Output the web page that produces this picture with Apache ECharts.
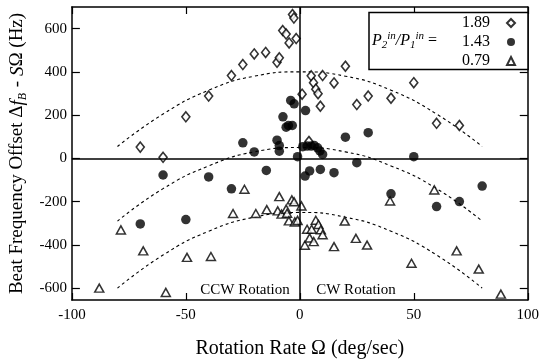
<!DOCTYPE html>
<html><head><meta charset="utf-8">
<script src="https://cdn.jsdelivr.net/npm/echarts@6/dist/echarts.min.js"></script>
<style>html,body{margin:0;padding:0;background:#fff}#c{width:542px;height:364px}</style>
</head><body><div id="c"></div>
<script>
const seriesNames = ['1.89', '1.43', '0.79'];
const xTicks = [-100, -50, 0, 50, 100];
const yTicks = [-600, -400, -200, 0, 200, 400, 600];

// P2/P1 = 1.89 (open diamonds)
const ratio189 = [[-70,52],[-60,5],[-50,192],[-40,288],[-30,383],[-25,434],[-20,483],[-15,490],[-10,444],[-9,465],
  [-7.5,591],[-6,575],[-4.7,534],[-1.6,554],[-3.2,665],[-2.6,649],[1,297],[5,382],[6,350],[7,320],[8,299],[9,241],
  [10,383],[15,349],[20,426],[25,249],[30,288],[40,278],[50,350],[60,162],[70,152],[4,78]];
// P2/P1 = 1.43 (filled circles)
const ratio143 = [[-70,-303],[-60,-77],[-50,-283],[-40,-86],[-30,-141],[-25,72],[-20,30],[-14.7,-56],[-10,84],[-9,59],
  [-9,33],[-7.4,192],[-6,144],[-5,152],[-3.3,152],[-4,268],[-2.5,252],[-1,8],[1.3,54],[2.5,221],[3.2,57],[5,57],
  [6.3,60],[7.8,49],[8.8,34],[10,18],[2.3,-82],[4.3,-58],[9,-51],[15,-66],[20,98],[25,-20],[30,119],[40,-164],
  [50,8],[60,-223],[70,-200],[80,-128]];
// P2/P1 = 0.79 (open triangles)
const ratio079 = [[-88,-600],[-78.5,-331],[-68.7,-428],[-58.8,-620],[-49.5,-458],[-39,-454],[-29.3,-255],[-24.3,-143],
  [-19.3,-255],[-14.5,-237],[-9.7,-243],[-9,-177],[-8,-258],[-6,-235],[-5.6,-254],[-3.5,-192],[-2.5,-201],[-4.8,-289],
  [-2.2,-294],[-1,-287],[0.7,-220],[2.2,-402],[3.2,-328],[4.3,-368],[5.2,-328],[6.1,-385],[7,-286],[8.2,-306],
  [9.2,-330],[10,-353],[15,-408],[19.7,-290],[24.6,-370],[29.5,-401],[39.6,-197],[49,-485],[59,-146],[68.8,-428],
  [78.5,-512],[88.2,-628]];

// dotted fit curves
const fit189 = [[-80,55],[-60,205],[-40,315],[-20,380],[0,400],[20,380],[40,315],[60,205],[80,55]];
const fit143 = [[-80,-290],[-60,-140],[-40,-35],[-20,30],[0,50],[20,30],[40,-35],[60,-140],[80,-290]];
const fit079 = [[-80,-600],[-60,-447],[-40,-337],[-20,-272],[0,-250],[20,-272],[40,-337],[60,-447],[80,-600]];

const FONT = 'Liberation Serif';
const chart = echarts.init(document.getElementById('c'), null, {renderer: 'canvas'});

const axisLineStyle = {color: '#000', width: 1.5};
const fitStyle = {color: '#000', width: 1.1, type: [3, 3]};
const fitSeries = (data) => ({
  type: 'line', data, smooth: true, showSymbol: false, symbol: 'none',
  lineStyle: fitStyle, silent: true, z: 1, legendHoverLink: false
});

chart.setOption({
  animation: false,
  backgroundColor: '#fff',
  grid: {left: 67, right: 9, top: 7, bottom: 63, show: false},
  xAxis: [{
    type: 'value', min: xTicks[0], max: xTicks[xTicks.length - 1], interval: 50, position: 'bottom',
    axisLine: {show: true, onZero: false, lineStyle: axisLineStyle},
    axisTick: {show: true, inside: true, length: 7, lineStyle: {color: '#000', width: 1.2}},
    axisLabel: {color: '#000', fontFamily: FONT, fontSize: 15, margin: 8},
    splitLine: {show: false},
    name: 'Rotation Rate Ω (deg/sec)', nameLocation: 'middle', nameGap: 39,
    nameTextStyle: {color: '#000', fontFamily: FONT, fontSize: 20}
  }, {
    type: 'value', min: xTicks[0], max: xTicks[xTicks.length - 1], interval: 50, position: 'top',
    axisLine: {show: true, onZero: false, lineStyle: axisLineStyle},
    axisTick: {show: true, inside: true, length: 7, lineStyle: {color: '#000', width: 1.2}},
    axisLabel: {show: false}, splitLine: {show: false}
  }],
  yAxis: [{
    type: 'value', min: -655, max: 700, position: 'left',
    axisLine: {show: true, onZero: false, lineStyle: axisLineStyle},
    axisTick: {show: true, inside: true, length: 8, customValues: yTicks, lineStyle: {color: '#000', width: 1.2}},
    axisLabel: {color: '#000', fontFamily: FONT, fontSize: 15, margin: 5, customValues: yTicks},
    splitLine: {show: false},
    name: '{n|Beat Frequency Offset Δ}{i|f}{s|B}{n| - }{i|S}{n|Ω (Hz)}',
    nameLocation: 'middle', nameGap: 36, nameRotate: 90,
    nameTextStyle: {
      color: '#000', fontFamily: FONT, fontSize: 19,
      rich: {
        n: {fontFamily: FONT, fontSize: 19, color: '#000', lineHeight: 22},
        i: {fontFamily: FONT, fontSize: 19, fontStyle: 'italic', color: '#000', lineHeight: 22},
        s: {fontFamily: FONT, fontSize: 12, fontStyle: 'italic', color: '#000', lineHeight: 22, verticalAlign: 'bottom', padding: [8, 1, 0, 0]}
      }
    }
  }, {
    type: 'value', min: -655, max: 700, position: 'right',
    axisLine: {show: true, onZero: false, lineStyle: axisLineStyle},
    axisTick: {show: true, inside: true, length: 8, customValues: yTicks, lineStyle: {color: '#000', width: 1.2}},
    axisLabel: {show: false}, splitLine: {show: false}
  }],
  legend: {
    orient: 'vertical', right: 21, top: 10, align: 'right', itemGap: 3,
    itemWidth: 8, itemHeight: 8, z: 10,
    data: seriesNames,
    formatter: (n) => n + '   ',
    textStyle: {color: '#000', fontFamily: FONT, fontSize: 16},
    selectedMode: false
  },
  graphic: [
    {type: 'rect', z: 1, shape: {x: 369, y: 12.5, width: 159, height: 57},
      style: {fill: '#fff', stroke: '#000', lineWidth: 1.5}},
    {type: 'text', z: 11, left: 372, top: 31,
      style: {
        text: '{i|P}{sb|2}{sp|in}{i|/P}{sb|1}{sp|in}{n| =}',
        rich: {
          i: {fontFamily: FONT, fontSize: 16, fontStyle: 'italic', fill: '#000', lineHeight: 20},
          n: {fontFamily: FONT, fontSize: 16, fill: '#000', lineHeight: 20},
          sb: {fontFamily: FONT, fontSize: 11, fontStyle: 'italic', fill: '#000', lineHeight: 20, verticalAlign: 'bottom', padding: [7, 0, 0, 0]},
          sp: {fontFamily: FONT, fontSize: 11, fontStyle: 'italic', fill: '#000', lineHeight: 20, verticalAlign: 'top', padding: [0, 0, 7, 0]}
        }
      }},
    {type: 'text', z: 11, x: 245, y: 290.5,
      style: {text: 'CCW Rotation', fontFamily: FONT, fontSize: 15, fill: '#000', align: 'center', verticalAlign: 'middle'}},
    {type: 'text', z: 11, x: 356, y: 290,
      style: {text: 'CW Rotation', fontFamily: FONT, fontSize: 15, fill: '#000', align: 'center', verticalAlign: 'middle'}}
  ],
  series: [
    {
      name: seriesNames[0], type: 'scatter', data: ratio189, symbol: 'diamond', symbolSize: [8, 10],
      itemStyle: {color: '#fff', borderColor: '#000', borderWidth: 1.6}, z: 3,
      markLine: {
        silent: true, symbol: ['none', 'none'], label: {show: false},
        lineStyle: {color: '#000', width: 1.5, type: 'solid'},
        data: [{xAxis: 0}, {yAxis: 0}]
      }
    },
    {
      name: seriesNames[1], type: 'scatter', data: ratio143, symbol: 'circle', symbolSize: 9.5,
      itemStyle: {color: '#000', borderColor: '#000', borderWidth: 0}, z: 3
    },
    {
      name: seriesNames[2], type: 'scatter', data: ratio079, symbol: 'triangle', symbolSize: [9, 8],
      itemStyle: {color: '#fff', borderColor: '#000', borderWidth: 1.5}, z: 3
    },
    fitSeries(fit189), fitSeries(fit143), fitSeries(fit079)
  ]
});
</script>
</body></html>
